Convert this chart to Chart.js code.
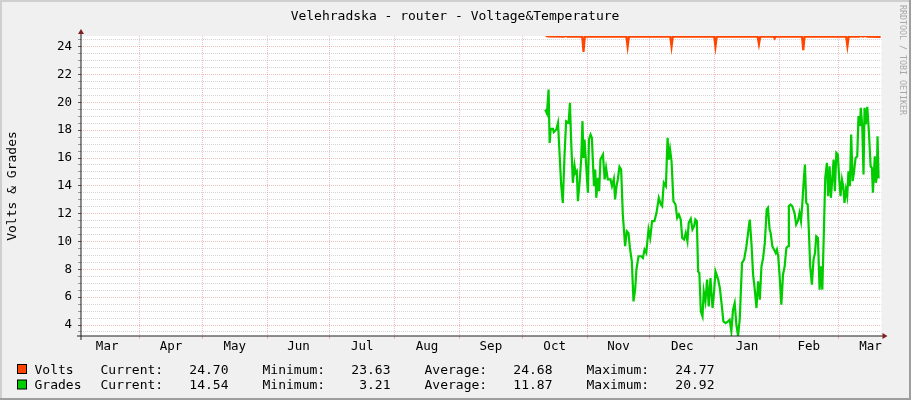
<!DOCTYPE html>
<html>
<head>
<meta charset="utf-8">
<title>Velehradska - router - Voltage&amp;Temperature</title>
<script src="https://cdn.jsdelivr.net/npm/chart.js@4"></script>
<style>
  html, body { margin: 0; padding: 0; background: #f0f0f0; }
  #wrap { width: 911px; height: 400px; }
</style>
</head>
<body>
<div id="wrap"><canvas id="rrd" width="911" height="400"></canvas></div>
<script>
const chartTitle = "Velehradska - router - Voltage&Temperature";
const yTitle = "Volts & Grades";
const watermark = "RRDTOOL / TOBI OETIKER";

// x is counted in days from 1 Oct
const monthStarts = [-183, -153, -122, -92, -61, -30, 0, 31, 61, 92, 123, 151];
const monthMids = [-198.5, -168, -137.5, -107, -76.5, -45.5, -15, 15.5, 46, 76.5, 107.5, 137, 166.5];
const monthLabels = ["Mar", "Apr", "May", "Jun", "Jul", "Aug", "Sep", "Oct", "Nov", "Dec", "Jan", "Feb", "Mar"];
const yLabels = [4, 6, 8, 10, 12, 14, 16, 18, 20, 22, 24];

const voltsDays = [11.2, 12.5, 20, 20.8, 21.6, 28.7, 29.3, 29.9, 49.8, 50.4, 51.0, 70.8, 71.4, 72.0,
  91.8, 92.4, 93.0, 112.6, 113.2, 113.8, 120.3, 120.7, 121.1, 133.8, 134.4, 135.0, 154.9, 155.5, 156.1,
  161, 162, 163, 164, 165, 171.4];
const voltsValues = [24.77, 24.74, 24.72, 24.78, 24.72, 24.72, 23.63, 24.72, 24.72, 24.0, 24.72, 24.72, 24.0, 24.72,
  24.72, 24.0, 24.72, 24.72, 24.19, 24.72, 24.72, 24.6, 24.72, 24.72, 23.76, 24.72, 24.72, 24.04, 24.72,
  24.72, 24.77, 24.72, 24.77, 24.72, 24.70];

const gradesDays = [11.0, 11.8, 12.6, 13.1, 13.6, 14.7, 15.1, 16.3, 17.1, 18.6, 19.4, 20.2, 21.0, 22.2, 22.8,
  23.4, 24.2, 25.0, 25.5, 26.1, 26.6, 27.4, 28.2, 28.8, 29.3, 29.8, 30.6, 31.4, 31.9, 32.7, 33.3, 34.3,
  34.9, 35.4, 36.2, 36.8, 37.4, 38.6, 39.4, 40.1, 40.9, 42.2, 42.9, 43.8, 44.4, 45.1, 45.7, 46.5, 47.3,
  48.1, 49.2, 50.0, 50.8, 51.5, 52.4, 53.2, 54.0, 54.6, 55.6, 56.9, 57.7, 58.5, 59.3, 60.4, 61.2, 62.1,
  63.2, 64.2, 65.3, 66.3, 66.9, 67.7, 68.7, 69.5, 70.1, 70.7, 71.4, 72.3, 73.3, 74.1, 74.9, 75.8, 76.5,
  77.4, 78.2, 79.0, 79.6, 80.6, 81.4, 82.2, 82.8, 83.5, 84.1, 84.7, 85.4, 86.2, 86.8, 87.6, 88.4, 89.2,
  90.0, 91.0, 91.7, 92.4, 93.7, 94.5, 95.3, 96.2, 97.3, 98.4, 99.2, 100.0, 100.8, 101.6, 102.4, 103.2,
  104.0, 105.1, 106.1, 107.2, 108.0, 108.8, 109.6, 110.4, 111.2, 112.0, 112.8, 113.6, 114.4, 115.2,
  116.0, 116.9, 117.5, 118.3, 118.8, 119.6, 120.4, 121.2, 121.8, 122.4, 123.1, 123.9, 124.7, 125.5,
  126.3, 127.1, 127.5, 128.3, 129.1, 130.2, 131.0, 131.8, 132.6, 133.3, 133.9, 134.7, 135.2, 135.8,
  136.5, 137.1, 137.7, 138.5, 139.3, 140.0, 140.6, 141.4, 142.2, 142.8, 143.5, 144.1, 144.9, 145.7,
  146.3, 147.0, 147.6, 148.2, 148.9, 149.5, 150.2, 150.9, 151.6, 152.2, 152.9, 153.5, 154.1, 154.8,
  155.4, 156.0, 156.7, 157.3, 158.0, 158.6, 159.4, 160.2, 160.8, 161.5, 161.9, 162.6, 163.2, 163.7,
  164.3, 165.0, 165.8, 166.6, 167.2, 167.7, 168.1, 168.6, 169.1, 169.6, 169.9, 170.4];
const gradesValues = [19.49, 19.2, 20.92, 17.09, 18.1, 18.1, 17.86, 18.05, 18.53, 14.1, 12.78, 16.13, 18.65, 18.53, 19.97,
  17.21, 14.22, 15.46, 14.93, 15.05, 12.9, 14.22, 15.89, 18.65, 16.0, 17.33, 15.41, 13.5, 17.33, 17.69, 17.45, 13.98,
  15.17, 13.14, 14.58, 13.62, 15.89, 16.25, 14.46, 15.29, 14.46, 14.46, 13.98, 14.5, 13.02, 13.98, 14.46, 15.37, 15.17,
  11.94, 9.66, 10.74, 10.62, 9.54, 8.58, 5.7, 6.54, 7.98, 8.94, 8.94, 8.82, 9.42, 9.18, 10.86, 10.26, 11.46,
  11.46, 12.06, 13.14, 12.66, 12.54, 14.22, 13.98, 17.45, 15.89, 16.61, 15.77, 12.9, 12.66, 11.7, 11.94, 11.58, 10.26,
  10.14, 10.62, 10.02, 11.34, 11.63, 10.86, 11.1, 11.58, 11.46, 7.86, 7.74, 4.98, 4.62, 6.42, 5.7, 7.26, 5.34,
  7.38, 5.22, 6.3, 7.86, 7.26, 6.66, 5.58, 4.26, 4.14, 4.26, 4.38, 3.54, 5.1, 5.58, 4.02, 3.21,
  4.38, 8.46, 8.7, 9.66, 10.62, 11.58, 9.9, 7.62, 6.54, 5.22, 7.14, 5.82, 8.22, 8.82,
  9.9, 12.3, 12.42, 10.86, 10.62, 9.66, 9.42, 9.18, 9.42, 8.94, 7.5, 5.46, 7.62, 8.22,
  9.54, 9.66, 12.54, 12.66, 12.54, 12.06, 11.22, 11.46, 12.06, 11.46, 12.66, 14.58, 15.53, 12.78,
  12.66, 10.62, 8.22, 6.9, 8.7, 9.18, 10.38, 10.26, 6.54, 8.22, 6.54, 9.9, 14.58, 15.65,
  13.26, 15.41, 13.14, 14.34, 15.89, 13.62, 16.37, 16.25, 14.46, 13.26, 14.46, 13.98, 12.78, 13.74,
  13.26, 15.05, 13.98, 17.69, 14.34, 14.93, 16.01, 16.13, 19.01, 18.29, 19.61, 18.29, 14.81, 19.61,
  18.41, 19.68, 17.81, 15.41, 15.29, 13.5, 14.7, 16.13, 14.22, 14.7, 17.57, 14.54];

const legendNames = ["Volts", "Grades"];
const legendColors = ["#ff4500", "#00cc00"];
const legendCurrent = ["24.70", "14.54"];
const legendMinimum = ["23.63", "3.21"];
const legendAverage = ["24.68", "11.87"];
const legendMaximum = ["24.77", "20.92"];

const majorGrid = "rgba(222, 79, 79, 0.36)";
const minorGrid = "rgba(143, 143, 143, 0.38)";
const monoFont = '"DejaVu Sans Mono", monospace';

Chart.defaults.font.family = monoFont;
Chart.defaults.color = "#000";

const toPoints = (days, values) => days.map((d, i) => ({ x: d, y: values[i] }));

const yGrid = [];
for (let v = 3.5; v <= 24.5; v += 0.5) yGrid.push(v);

const rrdLook = {
  id: "rrdLook",
  beforeDraw(chart) {
    const { ctx, chartArea: a } = chart;
    ctx.save();
    ctx.fillStyle = "#f0f0f0";
    ctx.fillRect(0, 0, 911, 400);
    ctx.fillStyle = "#ffffff";
    ctx.fillRect(a.left, a.top, a.right - a.left, a.bottom - a.top);
    ctx.restore();
  },
  afterDraw(chart) {
    const { ctx, chartArea: a } = chart;
    ctx.save();

    // axes
    ctx.strokeStyle = "#1f1f1f";
    ctx.lineWidth = 1;
    ctx.beginPath();
    ctx.moveTo(a.left - 4, a.bottom);
    ctx.lineTo(a.right + 3, a.bottom);
    ctx.moveTo(a.left, a.bottom + 4);
    ctx.lineTo(a.left, a.top - 3);
    ctx.stroke();

    // arrows
    ctx.fillStyle = "#801f1f";
    ctx.beginPath();
    ctx.moveTo(a.left - 3, a.top - 2);
    ctx.lineTo(a.left + 3, a.top - 2);
    ctx.lineTo(a.left, a.top - 7);
    ctx.closePath();
    ctx.fill();
    ctx.beginPath();
    ctx.moveTo(a.right + 1, a.bottom - 3);
    ctx.lineTo(a.right + 1, a.bottom + 3);
    ctx.lineTo(a.right + 6, a.bottom);
    ctx.closePath();
    ctx.fill();

    // title
    ctx.fillStyle = "#000";
    ctx.font = "13px " + monoFont;
    ctx.textAlign = "center";
    ctx.textBaseline = "alphabetic";
    ctx.fillText(chartTitle, 455, 19.5);

    // vertical label
    ctx.save();
    ctx.translate(15.5, 186);
    ctx.rotate(-Math.PI / 2);
    ctx.fillText(yTitle, 0, 0);
    ctx.restore();

    // watermark
    ctx.save();
    ctx.fillStyle = "#a8a8a8";
    ctx.font = "8.3px " + monoFont;
    ctx.textAlign = "left";
    ctx.translate(899.5, 5);
    ctx.rotate(Math.PI / 2);
    ctx.fillText(watermark, 0, 0);
    ctx.restore();

    // legend
    ctx.font = "13px " + monoFont;
    legendNames.forEach((name, i) => {
      const base = 373.5 + i * 15.5;
      ctx.fillStyle = legendColors[i];
      ctx.fillRect(17.5, base - 9, 9, 9);
      ctx.strokeStyle = "#000";
      ctx.strokeRect(17.5, base - 9, 9, 9);
      ctx.fillStyle = "#000";
      ctx.textAlign = "left";
      ctx.fillText(name, 34.5, base);
      ctx.fillText("Current:", 100.5, base);
      ctx.fillText("Minimum:", 262.5, base);
      ctx.fillText("Average:", 424.5, base);
      ctx.fillText("Maximum:", 586.5, base);
      ctx.textAlign = "right";
      ctx.fillText(legendCurrent[i], 228.5, base);
      ctx.fillText(legendMinimum[i], 390.5, base);
      ctx.fillText(legendAverage[i], 552.5, base);
      ctx.fillText(legendMaximum[i], 714.5, base);
    });

    // frame
    ctx.fillStyle = "#cfcfcf";
    ctx.fillRect(0, 0, 911, 2);
    ctx.fillRect(0, 0, 2, 400);
    ctx.fillStyle = "#9e9e9e";
    ctx.fillRect(0, 398, 911, 2);
    ctx.fillRect(909, 0, 2, 400);
    ctx.restore();
  },
};

new Chart(document.getElementById("rrd"), {
  type: "line",
  data: {
    datasets: [
      {
        label: legendNames[0],
        data: toPoints(voltsDays, voltsValues),
        borderColor: legendColors[0],
        borderWidth: 2.2,
        pointRadius: 0,
        tension: 0,
      },
      {
        label: legendNames[1],
        data: toPoints(gradesDays, gradesValues),
        borderColor: legendColors[1],
        borderWidth: 2.2,
        pointRadius: 0,
        tension: 0,
      },
    ],
  },
  options: {
    responsive: false,
    animation: false,
    layout: { padding: { top: 36, right: 29.5, left: 0, bottom: 0 } },
    plugins: {
      legend: { display: false },
      tooltip: { enabled: false },
      title: { display: false },
    },
    scales: {
      x: {
        type: "linear",
        min: -211,
        max: 171.8,
        afterBuildTicks: (scale) => {
          scale.ticks = monthStarts.concat(monthMids).sort((p, q) => p - q).map((v) => ({ value: v }));
        },
        afterFit: (scale) => { scale.height = 64; },
        grid: {
          color: (c) => (c.tick && monthStarts.includes(c.tick.value) ? majorGrid : "rgba(0,0,0,0)"),
          tickColor: (c) => (c.tick && monthStarts.includes(c.tick.value) ? majorGrid : "rgba(0,0,0,0)"),
          tickLength: 3,
        },
        border: { display: false, dash: [1, 1] },
        ticks: {
          autoSkip: false,
          maxRotation: 0,
          padding: 0,
          font: { size: 12.5 },
          callback: (v) => {
            const i = monthMids.indexOf(v);
            return i >= 0 ? monthLabels[i] : "";
          },
        },
      },
      y: {
        type: "linear",
        min: 3.21,
        max: 24.77,
        afterBuildTicks: (scale) => {
          scale.ticks = yGrid.map((v) => ({ value: v }));
        },
        afterFit: (scale) => { scale.width = 81; },
        grid: {
          color: (c) => (c.tick && c.tick.value % 2 === 0 ? majorGrid : minorGrid),
          tickColor: (c) => (c.tick && c.tick.value % 2 === 0 ? "#555" : "#999"),
          tickLength: 3,
        },
        border: { display: false, dash: [1, 1] },
        ticks: {
          autoSkip: false,
          padding: 6,
          font: { size: 12.5 },
          callback: (v) => (yLabels.includes(v) ? String(v) : ""),
        },
      },
    },
  },
  plugins: [rrdLook],
});
</script>
</body>
</html>
